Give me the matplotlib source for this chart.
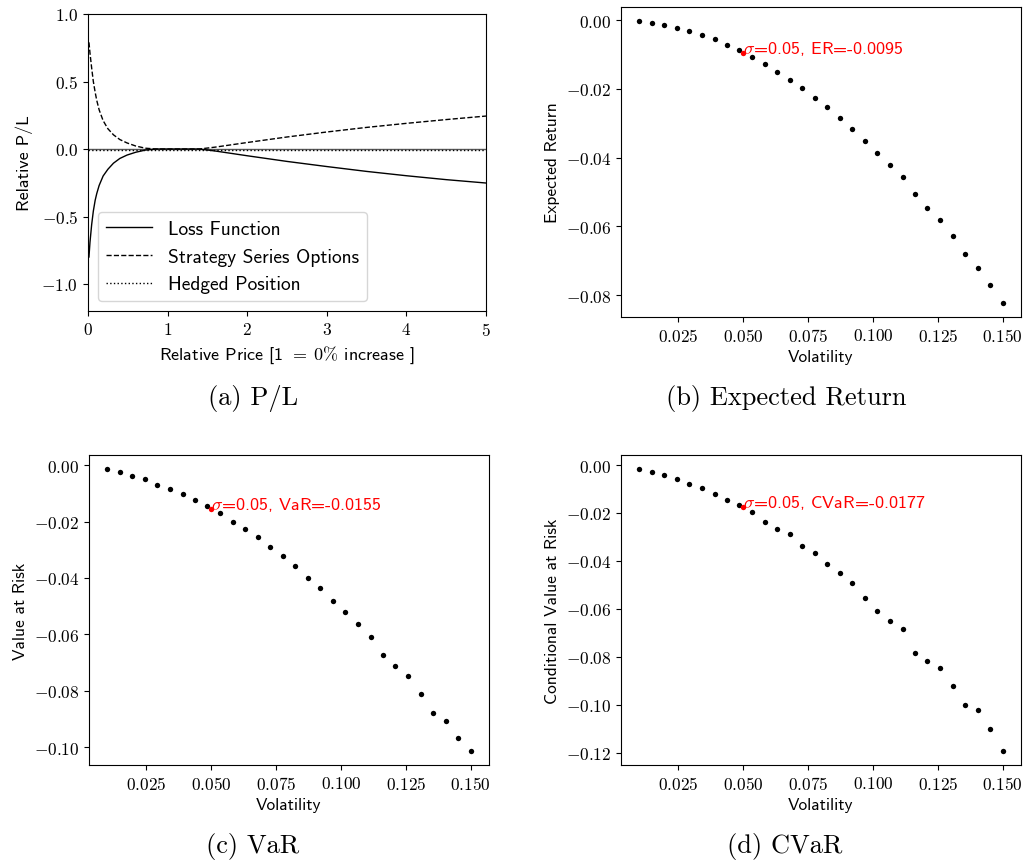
import matplotlib
matplotlib.use("Agg")
import matplotlib.pyplot as plt
from matplotlib.ticker import FuncFormatter, FixedLocator

plt.rcParams['font.family'] = ['cmss10', 'DejaVu Sans']
plt.rcParams['mathtext.fontset'] = 'cm'
plt.rcParams['axes.unicode_minus'] = False

# ---------------- data ----------------
price = [0.0, 0.012, 0.025, 0.046, 0.067, 0.09, 0.11, 0.14, 0.19, 0.25, 0.32, 0.40, 0.49, 0.60,
         0.72, 0.85, 1.0, 1.2, 1.4, 1.6, 2.0, 2.5, 3.0, 3.5, 4.0, 4.5, 5.0]
loss = [None, -0.80, -0.69, -0.56, -0.46, -0.38, -0.33, -0.27, -0.20, -0.15, -0.105, -0.07, -0.045,
        -0.024, -0.008, 0.0, 0.0, 0.0, 0.0, -0.015, -0.05, -0.092, -0.13, -0.166, -0.198, -0.227, -0.252]
strategy = [None, 0.79, 0.71, 0.60, 0.50, 0.42, 0.36, 0.29, 0.21, 0.15, 0.105, 0.07, 0.045,
            0.022, 0.006, 0.0, 0.0, 0.0, 0.0, 0.014, 0.048, 0.089, 0.126, 0.160, 0.190, 0.218, 0.244]
hedged = [-0.008] * 27

volatility = [0.0100, 0.0148, 0.0197, 0.0245, 0.0293, 0.0341, 0.0390, 0.0438, 0.0486, 0.0534,
              0.0583, 0.0631, 0.0679, 0.0728, 0.0776, 0.0824, 0.0872, 0.0921, 0.0969, 0.1017,
              0.1066, 0.1114, 0.1162, 0.1210, 0.1259, 0.1307, 0.1355, 0.1403, 0.1452, 0.1500]
expected_return = [-0.0003, -0.0009, -0.0014, -0.0022, -0.0032, -0.0044, -0.0056, -0.0073, -0.0088,
                   -0.0107, -0.0127, -0.0152, -0.0173, -0.0199, -0.0226, -0.0254, -0.0285, -0.0318,
                   -0.0353, -0.0387, -0.0422, -0.0458, -0.0506, -0.0547, -0.0583, -0.0629, -0.0681,
                   -0.0720, -0.0772, -0.0823]
value_at_risk = [-0.0014, -0.0024, -0.0037, -0.0050, -0.0069, -0.0084, -0.0104, -0.0124, -0.0144,
                 -0.0170, -0.0202, -0.0228, -0.0255, -0.0289, -0.0321, -0.0358, -0.0400, -0.0436,
                 -0.0481, -0.0521, -0.0564, -0.0610, -0.0672, -0.0713, -0.0747, -0.0812, -0.0877,
                 -0.0906, -0.0968, -0.1013]
cvar = [-0.0017, -0.0029, -0.0042, -0.0057, -0.0079, -0.0097, -0.0120, -0.0147, -0.0167, -0.0198,
        -0.0236, -0.0266, -0.0289, -0.0337, -0.0367, -0.0414, -0.0451, -0.0492, -0.0555, -0.0610,
        -0.0649, -0.0684, -0.0784, -0.0819, -0.0845, -0.0923, -0.1000, -0.1021, -0.1101, -0.1193]

sel_sigma = 0.05
sel_er = -0.0095
sel_var = -0.0155
sel_cvar = -0.0177

captions = ["(a) P/L", "(b) Expected Return", "(c) VaR", "(d) CVaR"]

# ---------------- figure ----------------
W, H = 1027, 862
fig = plt.figure(figsize=(W / 100, H / 100), dpi=100)

def box(l, t, r, b):
    return [l / W, 1 - b / H, (r - l) / W, (b - t) / H]

ax_a = fig.add_axes(box(88, 15, 486, 312))
ax_b = fig.add_axes(box(621, 8, 1021, 318))
ax_c = fig.add_axes(box(89, 456, 489, 766))
ax_d = fig.add_axes(box(621, 456, 1021, 766))

FS = 12.5

def mfmt(fmt):
    def f(v, p):
        s = fmt % v
        if s.startswith('-') and float(s) == 0:
            s = s[1:]
        return r'$%s$' % s
    return FuncFormatter(f)

# (a)
px = [p for p, l in zip(price, loss) if l is not None]
ax_a.axhline(0, color='0.35', lw=1.0, zorder=1)
ax_a.plot(px, [l for l in loss if l is not None], color='black', lw=1.0, ls='-', label='Loss Function')
ax_a.plot(px, [s for s in strategy if s is not None], color='black', lw=1.0, ls='--',
          label='Strategy Series Options')
ax_a.plot(price, hedged, color='black', lw=1.0, ls=':', label='Hedged Position')
ax_a.set_xlim(0, 5)
ax_a.set_ylim(-1.2, 1.0)
ax_a.xaxis.set_major_locator(FixedLocator([0, 1, 2, 3, 4, 5]))
ax_a.yaxis.set_major_locator(FixedLocator([-1.0, -0.5, 0.0, 0.5, 1.0]))
ax_a.xaxis.set_major_formatter(mfmt('%d'))
ax_a.yaxis.set_major_formatter(mfmt('%.1f'))
ax_a.set_xlabel(r'Relative Price [1 $=\;0\%$ increase ]', fontsize=FS + 0.5)
ax_a.set_ylabel('Relative P/L', fontsize=FS + 0.5, labelpad=6)
ax_a.legend(loc='lower left', fontsize=14, handlelength=2.4)

def scatter_panel(ax, vals, sel, name, yticks, ylabel):
    ax.scatter(volatility, vals, s=15, color='black', linewidths=0, zorder=2)
    ax.scatter([sel_sigma], [sel], s=15, color='red', linewidths=0, zorder=3)
    ax.text(sel_sigma, sel, r'$\sigma$=0.05, %s=%.4f' % (name, sel), color='red', fontsize=13)
    ax.yaxis.set_major_locator(FixedLocator(yticks))
    ax.xaxis.set_major_locator(FixedLocator([0.025, 0.050, 0.075, 0.100, 0.125, 0.150]))
    ax.xaxis.set_major_formatter(mfmt('%.3f'))
    ax.yaxis.set_major_formatter(mfmt('%.2f'))
    ax.set_xlabel('Volatility', fontsize=FS)
    ax.set_ylabel(ylabel, fontsize=FS)
    lo, hi = min(vals), max(vals)
    r = hi - lo
    ax.set_ylim(lo - 0.05 * r, hi + 0.05 * r)
    ax.set_xlim(0.003, 0.157)

scatter_panel(ax_b, expected_return, sel_er, 'ER', [0.0, -0.02, -0.04, -0.06, -0.08], 'Expected Return')
scatter_panel(ax_c, value_at_risk, sel_var, 'VaR', [0.0, -0.02, -0.04, -0.06, -0.08, -0.10], 'Value at Risk')
scatter_panel(ax_d, cvar, sel_cvar, 'CVaR', [0.0, -0.02, -0.04, -0.06, -0.08, -0.10, -0.12],
              'Conditional Value at Risk')

for ax in (ax_a, ax_b, ax_c, ax_d):
    ax.tick_params(labelsize=FS)

cap_pos = [(253, 405), (786, 405), (253, 853), (785, 853)]
for (cx, cy), cap in zip(cap_pos, captions):
    fig.text(cx / W, 1 - cy / H, cap, family='cmr10', fontsize=19, ha='center', va='baseline')

fig.savefig('out.png', dpi=100)
